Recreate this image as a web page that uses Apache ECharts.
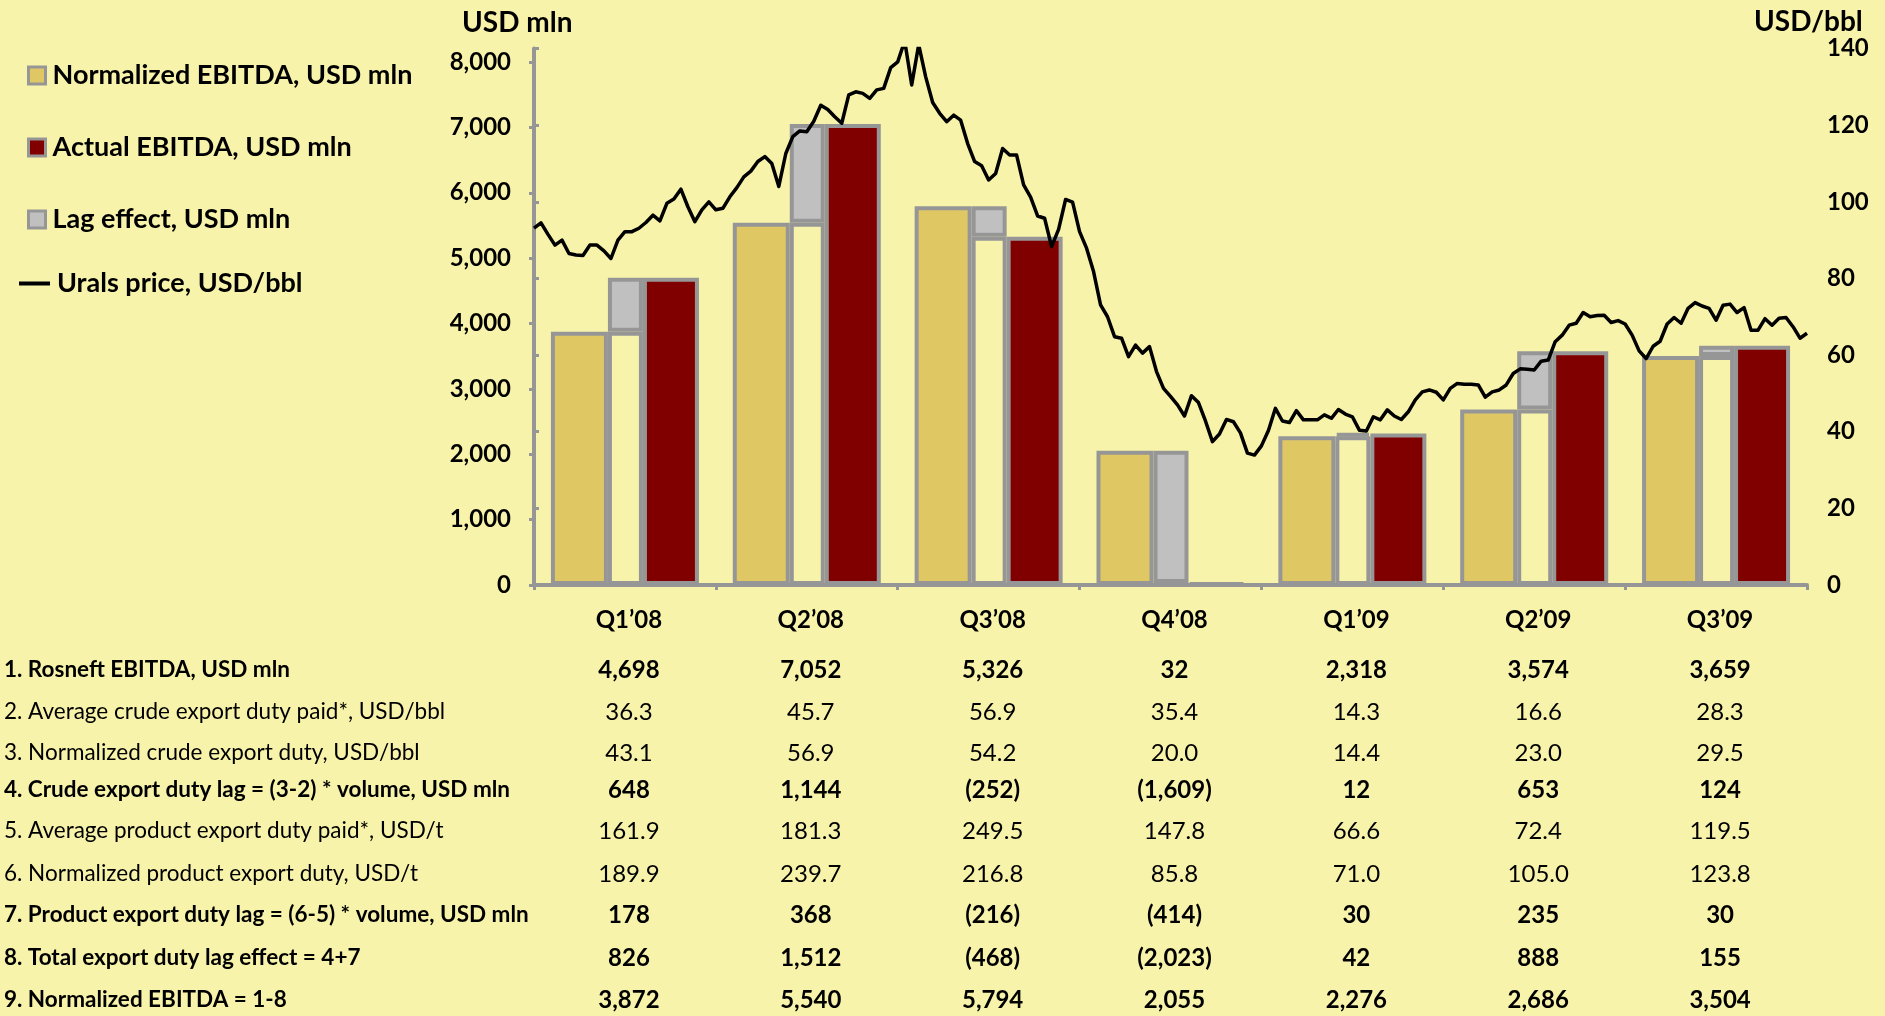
<!DOCTYPE html>
<html>
<head>
<meta charset="utf-8">
<script src="https://cdn.jsdelivr.net/npm/echarts@6/dist/echarts.min.js"></script>
<style>
  html, body { margin: 0; padding: 0; background: #f8f3aa; }
  #chart { width: 1885px; height: 1016px; }
</style>
</head>
<body>
<div id="chart"></div>
<script>
var quarters = ['Q1’08', 'Q2’08', 'Q3’08', 'Q4’08', 'Q1’09', 'Q2’09', 'Q3’09'];
var normalizedEbitda = [3872, 5540, 5794, 2055, 2276, 2686, 3504];
var actualEbitda = [4698, 7052, 5326, 32, 2318, 3574, 3659];

// Urals, USD/bbl, every ~3.5 days, Jan 2008 - Sep 2009
var uralsPrice = [
  93.1, 94.5, 91.5, 88.7, 90.0, 86.5, 86.1, 86.0, 88.7, 88.7, 87.2, 85.2, 90.0, 92.2, 92.2, 93.1,
  94.6, 96.5, 95.0, 99.6, 100.7, 103.3, 98.7, 94.8, 97.9, 100.0, 97.9, 98.3, 101.3, 103.7, 106.5,
  108.0, 110.5, 111.8, 110.0, 104.0, 112.6, 117.0, 118.5, 118.3, 121.0, 125.2, 124.1, 122.2, 120.5,
  127.9, 128.7,
  128.3, 127.0, 129.2, 129.6, 135.0, 136.5, 142.0, 130.5, 141.0, 132.6, 125.9, 123.1, 120.9, 122.6,
  121.3, 115.2, 110.5, 109.4, 105.7, 107.4, 113.9, 112.2, 112.2, 104.4, 101.2, 96.3, 95.7, 88.3,
  92.8, 100.6, 99.9, 92.2, 87.9, 81.8, 73.1, 70.0, 64.8, 64.4, 59.6, 62.6, 60.5, 62.2, 55.7, 51.3,
  49.2, 47.0,
  44.1, 49.4, 47.6, 42.8, 37.4, 39.4, 43.2, 42.6, 39.7, 34.4, 33.9, 36.3, 40.3, 46.1, 42.8, 42.4,
  45.5, 43.1, 43.1, 43.1, 44.4, 43.5, 45.8, 44.6, 43.9, 40.4, 40.2, 43.9, 43.1, 45.7, 44.1, 43.2,
  45.2, 48.3, 50.4, 50.9, 50.3, 48.3, 51.3, 52.6, 52.4, 52.4, 52.2, 49.0,
  50.4, 50.9, 52.2, 55.2, 56.4, 56.3, 56.1, 58.4, 58.7, 63.5, 65.2, 67.8, 68.3, 71.1, 70.0, 70.3,
  70.4, 68.5, 69.0, 68.1, 65.2, 61.1, 59.1, 62.3, 63.6, 68.1, 69.8, 68.3, 72.2, 73.7, 72.8, 72.2,
  69.1, 73.0, 73.3, 71.1, 72.4, 66.5, 66.5, 69.5, 67.8, 69.6, 69.8, 67.4, 64.4, 65.7
];

// table under the chart
var tableLabels = [
  '1. Rosneft EBITDA, USD mln',
  '2. Average crude export duty paid*, USD/bbl',
  '3. Normalized crude export duty, USD/bbl',
  '4. Crude export duty lag = (3-2) * volume, USD mln',
  '5. Average product export duty paid*, USD/t',
  '6. Normalized product export duty, USD/t',
  '7. Product export duty lag = (6-5) * volume, USD mln',
  '8. Total export duty lag effect = 4+7',
  '9. Normalized EBITDA = 1-8'
];
var crudeDutyPaid = [36.3, 45.7, 56.9, 35.4, 14.3, 16.6, 28.3];
var crudeDutyNorm = [43.1, 56.9, 54.2, 20.0, 14.4, 23.0, 29.5];
var crudeLag = [648, 1144, -252, -1609, 12, 653, 124];
var productDutyPaid = [161.9, 181.3, 249.5, 147.8, 66.6, 72.4, 119.5];
var productDutyNorm = [189.9, 239.7, 216.8, 85.8, 71.0, 105.0, 123.8];
var productLag = [178, 368, -216, -414, 30, 235, 30];
var totalLag = [826, 1512, -468, -2023, 42, 888, 155];
var tableValues = [actualEbitda, crudeDutyPaid, crudeDutyNorm, crudeLag, productDutyPaid,
  productDutyNorm, productLag, totalLag, normalizedEbitda];
var tableDecimals = [0, 1, 1, 0, 1, 1, 0, 0, 0];
var tableBold = [true, false, false, true, false, false, true, true, true];

var FONT = 'Lato, "Open Sans", sans-serif';
var BG = '#f8f3aa';
var GREY = '#969696';
// vertical middle of each table row, px
var rowY = [670, 712, 753, 790, 831, 874, 915, 958, 1000];

// middle bar: common part + lag on top
var baseBar = normalizedEbitda.map(function(v, i) { return Math.min(v, actualEbitda[i]); });
var lagBar = normalizedEbitda.map(function(v, i) { return Math.abs(actualEbitda[i] - v); });

function fmt(v, dec) {
  var s = Math.abs(v).toLocaleString('en-US', {minimumFractionDigits: dec, maximumFractionDigits: dec});
  return v < 0 ? '(' + s + ')' : s;
}

var chart = echarts.init(document.getElementById('chart'));

var axisLabelStyle = {fontFamily: FONT, fontSize: 24, fontWeight: 'bold', color: '#000'};
var legendText = {fontFamily: FONT, fontSize: 27, fontWeight: 'bold', color: '#000', padding: [0, 0, 0, 2]};

var option = {
  backgroundColor: BG,
  animation: false,
  legend: [{
    orient: 'vertical',
    left: 22,
    top: 57,
    itemWidth: 17,
    itemHeight: 17,
    itemGap: 45,
    icon: 'rect',
    selectedMode: false,
    textStyle: legendText,
    data: [
      {name: 'Normalized EBITDA, USD mln', itemStyle: {color: '#dfc864', borderColor: GREY, borderWidth: 3}},
      {name: 'Actual EBITDA, USD mln', itemStyle: {color: '#800000', borderColor: GREY, borderWidth: 3}},
      {name: 'Lag effect, USD mln', itemStyle: {color: '#c0c0c0', borderColor: GREY, borderWidth: 3}}
    ]
  }, {
    orient: 'vertical',
    left: 14,
    top: 265,
    itemWidth: 31,
    itemHeight: 4,
    icon: 'rect',
    selectedMode: false,
    textStyle: legendText,
    data: [{name: 'Urals price, USD/bbl', icon: 'rect', itemStyle: {color: '#000'}}]
  }],
  grid: [
    {left: 534, right: 78, top: 62, bottom: 431},
    {left: 534, right: 78, top: 48.5, bottom: 431}
  ],
  xAxis: [{
    gridIndex: 0,
    type: 'category',
    data: quarters,
    axisLine: {lineStyle: {color: GREY, width: 4}},
    axisTick: {show: true, length: 5, lineStyle: {color: GREY, width: 3}},
    axisLabel: Object.assign({margin: 23, padding: [0, 0, 0, 8]}, axisLabelStyle)
  }, {
    gridIndex: 1,
    type: 'value',
    min: 0,
    max: uralsPrice.length - 1,
    show: false
  }],
  yAxis: [{
    gridIndex: 0,
    type: 'value',
    min: 0,
    max: 8000,
    interval: 1000,
    axisLine: {show: true, lineStyle: {color: GREY, width: 4}},
    axisTick: {show: true, length: 5, lineStyle: {color: GREY, width: 3}},
    splitLine: {show: false},
    axisLabel: Object.assign({margin: 23, formatter: function(v) { return v.toLocaleString('en-US'); }}, axisLabelStyle)
  }, {
    gridIndex: 1,
    type: 'value',
    position: 'right',
    min: 0,
    max: 140,
    interval: 20,
    axisLine: {show: true, lineStyle: {color: GREY, width: 4}},
    axisTick: {show: true, length: 5, lineStyle: {color: GREY, width: 3}},
    splitLine: {show: false},
    axisLabel: Object.assign({margin: 20}, axisLabelStyle)
  }],
  series: [{
    name: 'Normalized EBITDA, USD mln',
    type: 'bar',
    data: normalizedEbitda,
    barWidth: 57,
    barGap: '0%',
    itemStyle: {color: '#dfc864', borderColor: GREY, borderWidth: 4},
    emphasis: {disabled: true}
  }, {
    name: 'Base',
    type: 'bar',
    stack: 'mid',
    data: baseBar,
    barWidth: 35,
    barGap: '0%',
    itemStyle: {color: BG, borderColor: GREY, borderWidth: 4},
    emphasis: {disabled: true}
  }, {
    name: 'Lag effect, USD mln',
    type: 'bar',
    stack: 'mid',
    data: lagBar,
    barWidth: 35,
    barGap: '0%',
    itemStyle: {color: '#c0c0c0', borderColor: GREY, borderWidth: 4},
    emphasis: {disabled: true}
  }, {
    name: 'Actual EBITDA, USD mln',
    type: 'bar',
    data: actualEbitda,
    barWidth: 56,
    barGap: '0%',
    itemStyle: {color: '#800000', borderColor: GREY, borderWidth: 4},
    emphasis: {disabled: true}
  }, {
    name: 'Urals price, USD/bbl',
    type: 'line',
    xAxisIndex: 1,
    yAxisIndex: 1,
    data: uralsPrice.map(function(v, i) { return [i, v]; }),
    symbol: 'none',
    z: 5,
    lineStyle: {color: '#000', width: 3.5, join: 'round'},
    emphasis: {disabled: true}
  }]
};

chart.setOption(option);

// axis titles and the table
var graphics = [{
  type: 'text', left: 462, top: 9,
  style: {text: 'USD mln', fontFamily: FONT, fontSize: 28, fontWeight: 'bold', fill: '#000'}
}, {
  type: 'text', left: 1754, top: 8,
  style: {text: 'USD/bbl', fontFamily: FONT, fontSize: 28, fontWeight: 'bold', fill: '#000'}
}];

var colX = quarters.map(function(q) { return chart.convertToPixel({xAxisIndex: 0}, q) + 4; });

tableLabels.forEach(function(label, i) {
  var weight = tableBold[i] ? 'bold' : 'normal';
  graphics.push({
    type: 'text', x: 4, y: rowY[i],
    style: {text: label, fontFamily: FONT, fontSize: 22.5, fontWeight: weight, fill: '#000', verticalAlign: 'middle'}
  });
  tableValues[i].forEach(function(v, j) {
    graphics.push({
      type: 'text', x: colX[j], y: rowY[i],
      style: {text: fmt(v, tableDecimals[i]), fontFamily: FONT, fontSize: 24, fontWeight: weight,
        fill: '#000', align: 'center', verticalAlign: 'middle'}
    });
  });
});

chart.setOption({graphic: graphics});
</script>
</body>
</html>
